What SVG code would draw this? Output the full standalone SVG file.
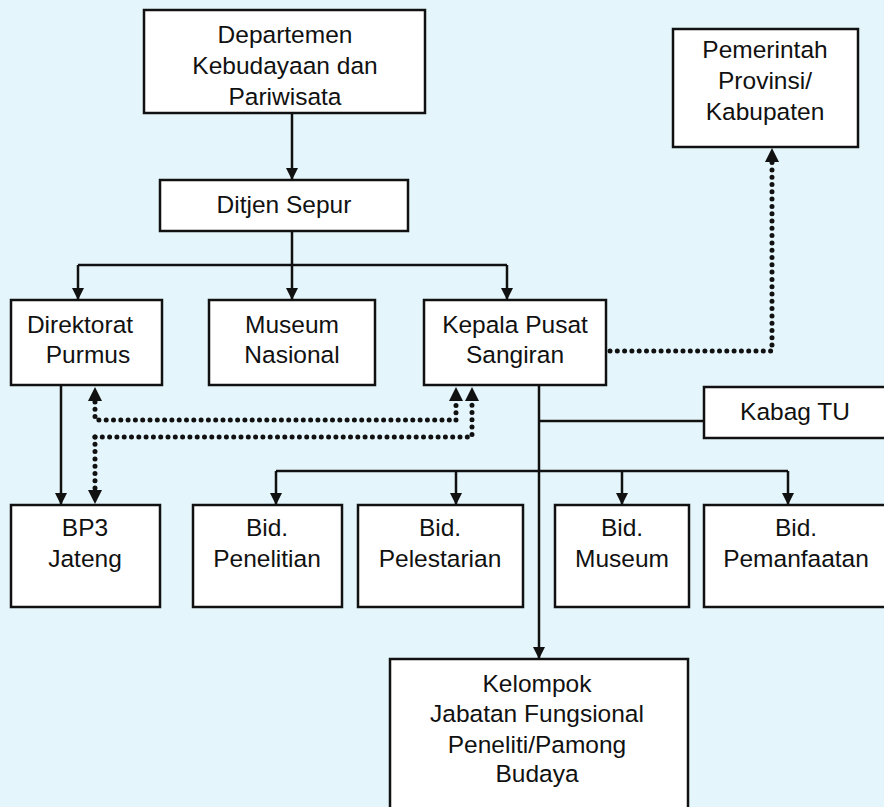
<svg xmlns="http://www.w3.org/2000/svg" width="884" height="807" viewBox="0 0 884 807">
<style>
.box{fill:#fff;stroke:#111;stroke-width:2.5}
.t{font-family:"Liberation Sans",Arial,sans-serif;font-size:24.5px;fill:#111;text-anchor:middle}
.ln{fill:none;stroke:#111;stroke-width:2.5}
.dot{fill:none;stroke:#111;stroke-width:5;stroke-linecap:round;stroke-dasharray:0 7.3}
</style>
<defs>
<marker id="ah" markerWidth="12" markerHeight="12" refX="11" refY="6" orient="auto" markerUnits="userSpaceOnUse" viewBox="0 0 12 12">
<path d="M0,0 L12,6 L0,12 z" fill="#111"/>
</marker>
</defs>
<rect width="884" height="807" fill="#e4f6fb"/>
<g id="connectors">
<path class="ln" d="M292,113 V179" marker-end="url(#ah)"/>
<path class="ln" d="M292,231 V265"/>
<path class="ln" d="M78,265 H507"/>
<path class="ln" d="M78,265 V299" marker-end="url(#ah)"/>
<path class="ln" d="M292,265 V299" marker-end="url(#ah)"/>
<path class="ln" d="M507,265 V299" marker-end="url(#ah)"/>
<path class="ln" d="M61,385 V504" marker-end="url(#ah)"/>
<path class="ln" d="M539,385 V658" marker-end="url(#ah)"/>
<path class="ln" d="M539,421 H704"/>
<path class="ln" d="M276,471 H788"/>
<path class="ln" d="M276,471 V504" marker-end="url(#ah)"/>
<path class="ln" d="M456,471 V504" marker-end="url(#ah)"/>
<path class="ln" d="M622,471 V504" marker-end="url(#ah)"/>
<path class="ln" d="M788,471 V504" marker-end="url(#ah)"/>
<path class="dot" d="M610,351 H772 V162"/>
<path d="M765,162 L772,148 L779,162 z" fill="#111"/>
<path class="dot" d="M95,402 V420 H452"/>
<path class="dot" d="M456,420 V402"/>
<path class="dot" d="M95,437 V490"/>
<path class="dot" d="M95,437 H472 V402"/>
<path d="M88,401 L95,387 L102,401 z" fill="#111"/>
<path d="M88,490 L95,504 L102,490 z" fill="#111"/>
<path d="M449,401 L456,387 L463,401 z" fill="#111"/>
<path d="M465,401 L472,387 L479,401 z" fill="#111"/>
</g>
<g id="dept"><rect class="box" x="144" y="10" width="281" height="103"/>
<text class="t" x="285" y="43">Departemen</text><text class="t" x="285" y="74">Kebudayaan dan</text><text class="t" x="285" y="105">Pariwisata</text></g>
<g id="ditjen"><rect class="box" x="160" y="180" width="248" height="51"/>
<text class="t" x="284" y="213">Ditjen Sepur</text></g>
<g id="pemerintah"><rect class="box" x="673" y="29" width="185" height="118"/>
<text class="t" x="765" y="58">Pemerintah</text><text class="t" x="765" y="89">Provinsi/</text><text class="t" x="765" y="120">Kabupaten</text></g>
<g id="direktorat"><rect class="box" x="11" y="300" width="151" height="85"/>
<text class="t" x="80" y="333">Direktorat</text><text class="t" x="88" y="363">Purmus</text></g>
<g id="museum-nasional"><rect class="box" x="209" y="300" width="166" height="85"/>
<text class="t" x="292" y="333">Museum</text><text class="t" x="292" y="363">Nasional</text></g>
<g id="kepala"><rect class="box" x="424" y="300" width="182" height="85"/>
<text class="t" x="515" y="333">Kepala Pusat</text><text class="t" x="515" y="363">Sangiran</text></g>
<g id="kabag"><rect class="box" x="704" y="387" width="184" height="51"/>
<text class="t" x="795" y="420">Kabag TU</text></g>
<g id="bp3"><rect class="box" x="11" y="505" width="149" height="102"/>
<text class="t" x="85" y="536">BP3</text><text class="t" x="85" y="567">Jateng</text></g>
<g id="penelitian"><rect class="box" x="193" y="505" width="149" height="102"/>
<text class="t" x="267" y="536">Bid.</text><text class="t" x="267" y="567">Penelitian</text></g>
<g id="pelestarian"><rect class="box" x="358" y="505" width="165" height="102"/>
<text class="t" x="440" y="536">Bid.</text><text class="t" x="440" y="567">Pelestarian</text></g>
<g id="bid-museum"><rect class="box" x="555" y="505" width="134" height="102"/>
<text class="t" x="622" y="536">Bid.</text><text class="t" x="622" y="567">Museum</text></g>
<g id="pemanfaatan"><rect class="box" x="704" y="505" width="184" height="102"/>
<text class="t" x="796" y="536">Bid.</text><text class="t" x="796" y="567">Pemanfaatan</text></g>
<g id="kelompok"><rect class="box" x="390" y="659" width="298" height="152"/>
<text class="t" x="537" y="692">Kelompok</text><text class="t" x="537" y="722">Jabatan Fungsional</text><text class="t" x="537" y="753">Peneliti/Pamong</text><text class="t" x="537" y="782">Budaya</text></g>
</svg>
